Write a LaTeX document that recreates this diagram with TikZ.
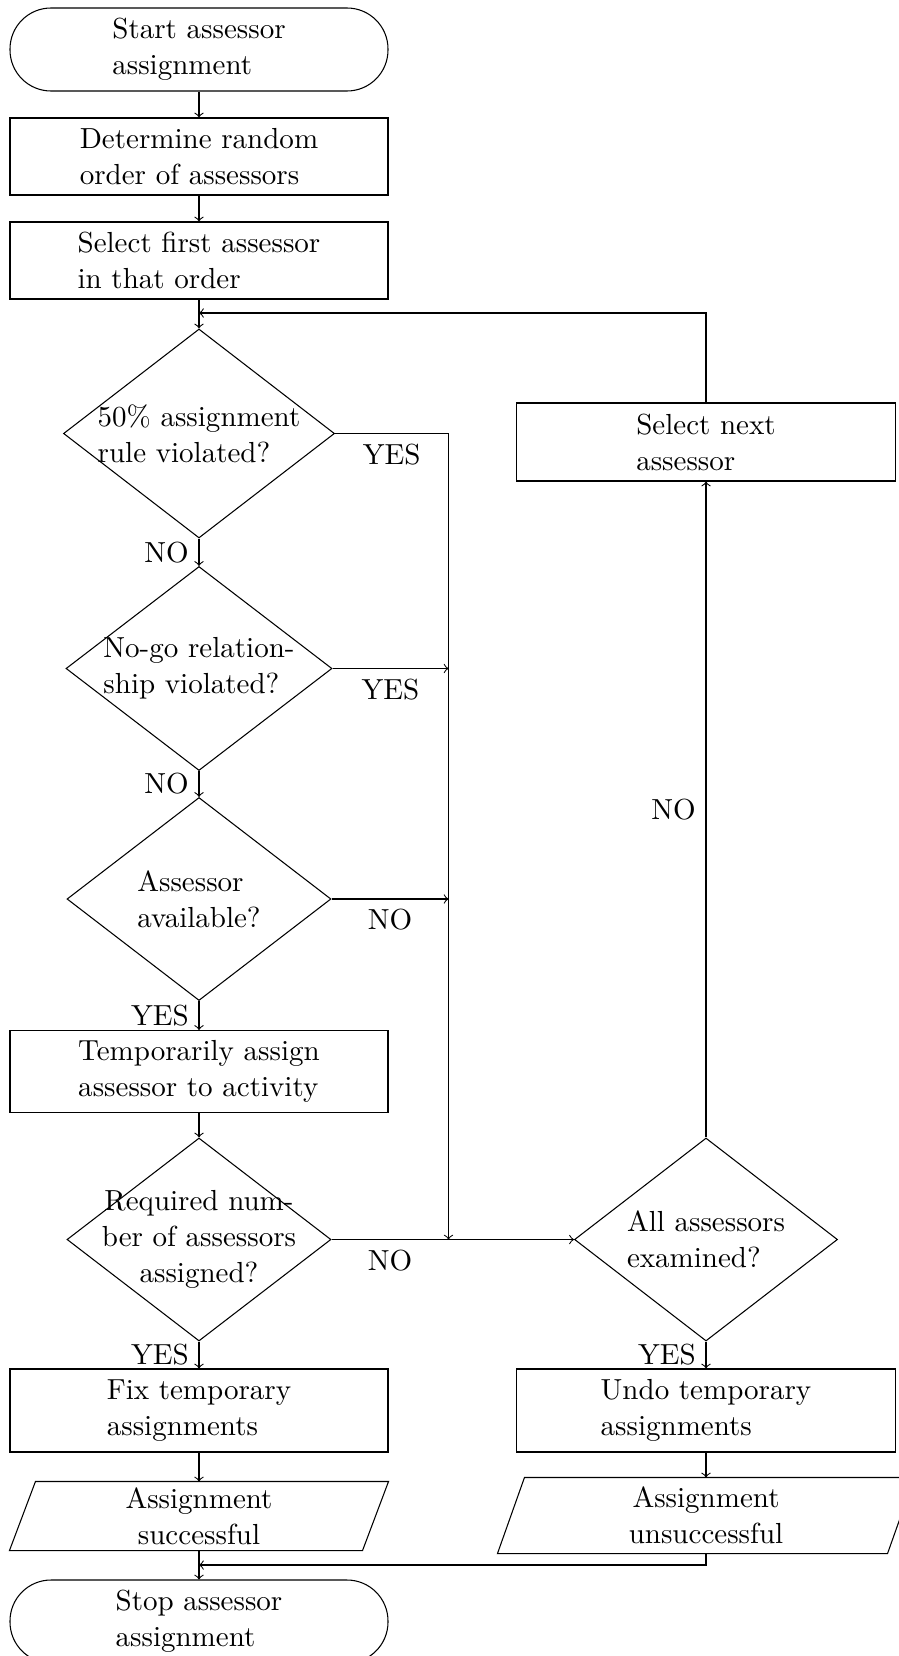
\documentclass[tikz,border=0pt]{standalone}
\usetikzlibrary{shapes.geometric,calc}
\newcommand\pxunit{0.37736pt}
\begin{document}
\begin{tikzpicture}[x=0.37736pt,y=-0.37736pt,
  every node/.style={font=\fontsize{10.95}{13.6}\selectfont},
  box/.style={draw, rectangle, minimum width={378*\pxunit}, align=left, inner sep=0pt},
  term/.style={draw, rectangle, rounded corners={41*\pxunit}, minimum width={378*\pxunit}, minimum height={83*\pxunit}, align=left, inner sep=0pt},
  dia/.style={draw, diamond, inner sep=0pt},
  para/.style={rectangle, align=center, inner sep=0pt},
  lbl/.style={inner sep=3.65pt},
  arr/.style={->}]
\useasboundingbox (0,0) rectangle (899,1656);
\clip (0,0) rectangle (899,1656);

% nodes
\node[term] (start) at (199,49.5) {Start assessor\\assignment};
\node[box, minimum height={77*\pxunit}] (det) at (199,156.5) {Determine random\\order of assessors};
\node[box, minimum height={77*\pxunit}] (sel1) at (199,260.5) {Select first assessor\\in that order};
\node[dia, minimum width={271*\pxunit}, minimum height={209*\pxunit},
  label={[align=left]center:{50\% assignment\\rule violated?}}] (d1) at (199,433.5) {};
\node[dia, minimum width={266*\pxunit}, minimum height={204*\pxunit},
  label={[align=left]center:{No-go relation-\\ship violated?}}] (d2) at (199,668.5) {};
\node[dia, minimum width={264*\pxunit}, minimum height={203*\pxunit},
  label={[align=left]center:{Assessor\\available?}}] (d3) at (199,899) {};
\node[box, minimum height={82*\pxunit}] (temp) at (199,1071.5) {Temporarily assign\\assessor to activity};
\node[dia, minimum width={264*\pxunit}, minimum height={203*\pxunit},
  label={[align=center]center:{Required num-\\ber of assessors\\assigned?}}] (d4) at (199,1239.5) {};
\node[box, minimum height={83*\pxunit}] (fix) at (199,1410.5) {Fix temporary\\assignments};
\node[para, minimum width={378*\pxunit}, minimum height={68*\pxunit}] (succ) at (199,1516) {Assignment\\successful};
\node[term] (stop) at (199,1621.5) {Stop assessor\\assignment};

\node[box, minimum width={379*\pxunit}, minimum height={78*\pxunit}] (selnext) at (706,442) {Select next\\assessor};
\node[dia, minimum width={263*\pxunit}, minimum height={203*\pxunit},
  label={[align=left]center:{All assessors\\examined?}}] (all) at (706,1239.5) {};
\node[box, minimum width={379*\pxunit}, minimum height={83*\pxunit}] (undo) at (706,1410.5) {Undo temporary\\assignments};
\node[para, minimum width={416*\pxunit}, minimum height={75*\pxunit}] (unsucc) at (706,1515.5) {Assignment\\unsuccessful};

% parallelogram outlines
\draw ($(succ.north west)+(26,0)$) -- (succ.north east) -- ($(succ.south east)+(-26,0)$) -- (succ.south west) -- cycle;
\draw ($(unsucc.north west)+(27,0)$) -- (unsucc.north east) -- ($(unsucc.south east)+(-27,0)$) -- (unsucc.south west) -- cycle;

% helper coordinates
\coordinate (loop) at (199,313);
\coordinate (c1) at (448.5,433.5);
\coordinate (c2) at (448.5,668.5);
\coordinate (c3) at (448.5,899);
\coordinate (j) at (448.5,1239.5);
\coordinate (merge) at (199,1565);

% connectors
\draw[arr] (start) -- (det);
\draw[arr] (det) -- (sel1);
\draw[arr] (sel1) -- (d1);
\draw[arr] (d1) -- node[lbl,left]{NO} (d2);
\draw[arr] (d2) -- node[lbl,left]{NO} (d3);
\draw[arr] (d3) -- node[lbl,left]{YES} (temp);
\draw[arr] (temp) -- (d4);
\draw[arr] (d4) -- node[lbl,left]{YES} (fix);
\draw[arr] (fix) -- (succ);
\draw[arr] (succ) -- (stop);

\draw[arr] (selnext.north) |- (loop);
\draw[arr] (d1.east) -- node[lbl,below]{YES} (c1) -- (j);
\draw[arr] (d2.east) -- node[lbl,below]{YES} (c2);
\draw[arr] (d3.east) -- node[lbl,below]{NO} (c3);
\draw[arr] (d4.east) -- node[lbl,below]{NO} (j) -- (all.west);
\draw[arr] (all) -- node[lbl,left]{NO} (selnext);
\draw[arr] (all) -- node[lbl,left]{YES} (undo);
\draw[arr] (undo) -- (unsucc);
\draw[arr] (unsucc.south) |- (merge);
\end{tikzpicture}
\end{document}
